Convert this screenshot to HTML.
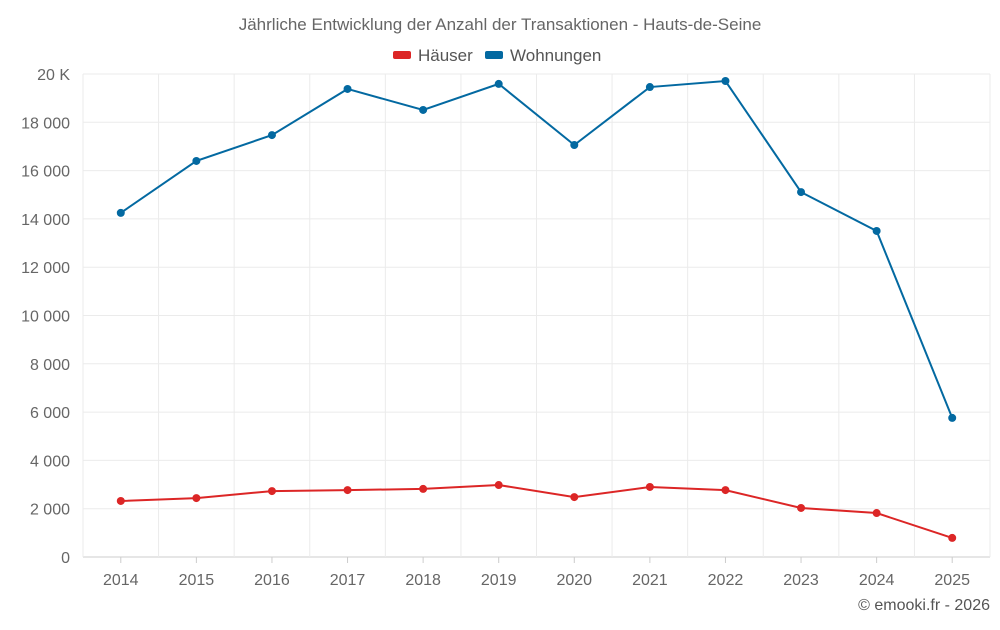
<!DOCTYPE html>
<html><head><meta charset="utf-8"><style>
body{margin:0;background:#fff;font-family:"Liberation Sans",sans-serif;}
</style></head><body>
<svg id="chart" width="1000" height="625" xmlns="http://www.w3.org/2000/svg" font-family="Liberation Sans, sans-serif">
<text x="500" y="30" text-anchor="middle" font-size="17" fill="#666">Jährliche Entwicklung der Anzahl der Transaktionen - Hauts-de-Seine</text>
<g>
<g><rect x="393" y="51" width="18" height="8" rx="2" fill="#dc2626"/><text x="418" y="61" font-size="17" fill="#555">Häuser</text></g>
<g><rect x="485" y="51" width="18" height="8" rx="2" fill="#0369a1"/><text x="510" y="61" font-size="17" fill="#555">Wohnungen</text></g>
</g>
<g id="grid"></g>
<g id="axes"></g>
<g id="series"></g>
<text x="990" y="610" text-anchor="end" font-size="16" fill="#555">© emooki.fr - 2026</text>
</svg>
<script>
const years=["2014","2015","2016","2017","2018","2019","2020","2021","2022","2023","2024","2025"];
const wohnungen=[14250,16400,17470,19380,18510,19590,17060,19460,19710,15110,13500,5760];
const haeuser=[2320,2440,2730,2770,2820,2980,2480,2900,2770,2030,1820,790];
const yTicks=[0,2000,4000,6000,8000,10000,12000,14000,16000,18000,20000];
const yTickLabels=["0","2 000","4 000","6 000","8 000","10 000","12 000","14 000","16 000","18 000","20 K"];
const L=83,R=990,T=74,B=557,yMax=20000;
const step=(R-L)/years.length;
const x=i=>L+step*(i+0.5);
const y=v=>B-(v/yMax)*(B-T);
const NS="http://www.w3.org/2000/svg";
function mk(tag,attrs,parent){const e=document.createElementNS(NS,tag);for(const k in attrs)e.setAttribute(k,attrs[k]);parent.appendChild(e);return e;}
const grid=document.getElementById('grid'),axes=document.getElementById('axes'),series=document.getElementById('series');
yTicks.forEach((t,i)=>{
 const l=mk('line',{x1:L,x2:R,y1:y(t),y2:y(t),stroke:i==0?'#ccc':'#ebebeb','stroke-width':1},grid);
 
 
 const tx=mk('text',{x:L-13,y:y(t)+6,'text-anchor':'end','font-size':16,fill:'#666'},axes);
 tx.textContent=yTickLabels[i];
 
 
});
for(let i=0;i<=years.length;i++){
 const l=mk('line',{x1:L+step*i,x2:L+step*i,y1:T,y2:B+(i==0||i==years.length?0:0),stroke:'#ebebeb'},grid);
 
 
}
years.forEach((yr,i)=>{
 const tk=mk('line',{x1:x(i),x2:x(i),y1:B,y2:B+6,stroke:'#ccc'},axes);
 
 
 const tx=mk('text',{x:x(i),y:B+28,'text-anchor':'middle','font-size':16,fill:'#666'},axes);
 tx.textContent=yr;
 
 
});
function draw(vals,color,name){
 const p=mk('polyline',{points:vals.map((v,i)=>x(i)+','+y(v)).join(' '),fill:'none',stroke:color,'stroke-width':2},series);
 
 
 vals.forEach((v,i)=>{
  const c=mk('circle',{cx:x(i),cy:y(v),r:4,fill:color},series);
  
  
 });
}
draw(wohnungen,'#0369a1','wohnungen');
draw(haeuser,'#dc2626','haeuser');
</script>
</body></html>
